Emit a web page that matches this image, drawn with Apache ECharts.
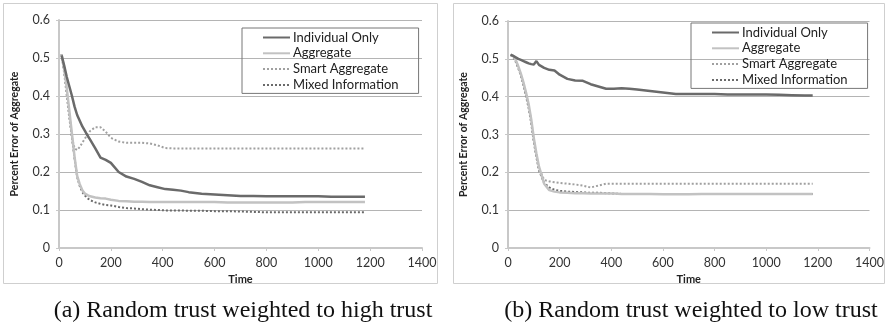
<!DOCTYPE html>
<html>
<head>
<meta charset="utf-8">
<script src="https://cdn.jsdelivr.net/npm/echarts@6/dist/echarts.min.js"></script>
<style>
  html, body { margin: 0; padding: 0; background: #fff; }
  #chart { width: 887px; height: 322px; }
</style>
</head>
<body>
<div id="chart"></div>
<script>
// time steps shared by every series
var time = [10, 20, 30, 40, 50, 60, 70, 80, 90, 100,
  110, 120, 140, 160, 180, 200, 230, 260, 290, 320,
  350, 380, 410, 440, 470, 500, 550, 600, 650, 700,
  750, 800, 850, 900, 950, 1000, 1050, 1100, 1150, 1180];

var seriesNames = ["Individual Only", "Aggregate", "Smart Aggregate", "Mixed Information"];

// (a) high trust
var individualA = [0.507, 0.48, 0.45, 0.425, 0.40, 0.372, 0.35, 0.335, 0.32, 0.308,
  0.296, 0.285, 0.262, 0.238, 0.232, 0.224, 0.200, 0.188, 0.182, 0.174,
  0.165, 0.160, 0.155, 0.153, 0.151, 0.147, 0.143, 0.141, 0.139, 0.137,
  0.137, 0.136, 0.136, 0.136, 0.136, 0.136, 0.135, 0.135, 0.135, 0.135];
var aggregateA = [0.51, 0.47, 0.42, 0.36, 0.30, 0.24, 0.19, 0.168, 0.152, 0.143,
  0.139, 0.136, 0.133, 0.131, 0.130, 0.127, 0.124, 0.123, 0.122, 0.122,
  0.121, 0.121, 0.121, 0.121, 0.121, 0.121, 0.121, 0.121, 0.120, 0.120,
  0.120, 0.120, 0.120, 0.120, 0.121, 0.121, 0.121, 0.121, 0.121, 0.121];
var smartA = [0.51, 0.46, 0.40, 0.34, 0.29, 0.262, 0.258, 0.266, 0.277, 0.288,
  0.298, 0.308, 0.318, 0.318, 0.306, 0.290, 0.280, 0.277, 0.277, 0.277,
  0.275, 0.270, 0.263, 0.262, 0.262, 0.262, 0.262, 0.262, 0.262, 0.262,
  0.262, 0.262, 0.262, 0.262, 0.262, 0.262, 0.262, 0.262, 0.262, 0.262];
var mixedA = [0.51, 0.465, 0.41, 0.35, 0.29, 0.235, 0.187, 0.163, 0.147, 0.138,
  0.131, 0.126, 0.120, 0.116, 0.113, 0.112, 0.108, 0.105, 0.104, 0.102,
  0.101, 0.100, 0.099, 0.099, 0.099, 0.098, 0.098, 0.097, 0.097, 0.096,
  0.095, 0.094, 0.094, 0.094, 0.094, 0.094, 0.094, 0.094, 0.094, 0.094];

// (b) low trust
var individualB = [0.511, 0.508, 0.504, 0.50, 0.497, 0.494, 0.491, 0.488, 0.486, 0.485,
  0.494, 0.484, 0.476, 0.471, 0.469, 0.458, 0.447, 0.443, 0.442, 0.433,
  0.427, 0.421, 0.421, 0.422, 0.421, 0.419, 0.415, 0.411, 0.407, 0.407,
  0.407, 0.407, 0.406, 0.406, 0.406, 0.406, 0.405, 0.404, 0.403, 0.403];
var aggregateB = [0.51, 0.508, 0.497, 0.48, 0.46, 0.437, 0.41, 0.38, 0.34, 0.29,
  0.25, 0.215, 0.17, 0.153, 0.149, 0.147, 0.146, 0.145, 0.145, 0.144,
  0.144, 0.144, 0.144, 0.143, 0.143, 0.143, 0.143, 0.142, 0.142, 0.142,
  0.143, 0.143, 0.143, 0.143, 0.143, 0.143, 0.143, 0.143, 0.143, 0.143];
var smartB = [0.51, 0.508, 0.495, 0.478, 0.457, 0.433, 0.405, 0.375, 0.335, 0.285,
  0.245, 0.21, 0.18, 0.176, 0.174, 0.172, 0.170, 0.168, 0.165, 0.160,
  0.165, 0.170, 0.170, 0.170, 0.170, 0.170, 0.170, 0.170, 0.170, 0.170,
  0.170, 0.170, 0.170, 0.170, 0.170, 0.170, 0.170, 0.170, 0.170, 0.170];
var mixedB = [0.51, 0.506, 0.492, 0.475, 0.455, 0.43, 0.40, 0.37, 0.33, 0.28,
  0.24, 0.205, 0.172, 0.16, 0.154, 0.151, 0.149, 0.148, 0.147, 0.146,
  0.146, 0.145, 0.144, 0.143, 0.143, 0.143, 0.143, 0.143, 0.143, 0.143,
  0.143, 0.143, 0.143, 0.143, 0.143, 0.143, 0.143, 0.143, 0.143, 0.143];

var captions = ["(a) Random trust weighted to high trust", "(b) Random trust weighted to low trust"];

var chart = echarts.init(document.getElementById("chart"));

var font = "Lato";
var styles = [
  { color: "#6a6a6a", width: 2.5, type: "solid" },
  { color: "#c2c2c2", width: 2.5, type: "solid" },
  { color: "#a0a0a0", width: 2, type: [2, 2] },
  { color: "#6a6a6a", width: 2, type: [2, 2] }
];

function pairs(vals) {
  return time.map(function (t, i) { return [t, vals[i]]; });
}

function makeSeries(idx, lists) {
  return lists.map(function (vals, k) {
    return {
      name: seriesNames[k],
      type: "line",
      xAxisIndex: idx,
      yAxisIndex: idx,
      symbol: "none",
      silent: true,
      z: 10 - k,
      lineStyle: styles[k],
      itemStyle: { color: styles[k].color },
      data: pairs(vals)
    };
  });
}

function xAxis(idx) {
  return {
    type: "value", gridIndex: idx, min: 0, max: 1400, interval: 200,
    name: "Time", nameLocation: "middle", nameGap: 23,
    nameTextStyle: { fontFamily: font, fontWeight: "bold", fontSize: 11, color: "#222" },
    axisLine: { lineStyle: { color: "#c8c8c8", width: 2 } },
    axisTick: { show: true, length: 3, lineStyle: { color: "#c8c8c8" } },
    axisLabel: { fontFamily: font, fontSize: 12.5, color: "#333", margin: 8,
      formatter: function (v) { return String(v); } },
    splitLine: { show: false }
  };
}

function yAxis(idx) {
  return {
    type: "value", gridIndex: idx, min: 0, max: 0.6, interval: 0.1,
    name: "Percent Error of Aggregate", nameLocation: "middle", nameGap: 39,
    nameTextStyle: { fontFamily: font, fontWeight: "bold", fontSize: 10.5, color: "#222" },
    axisLine: { show: true, lineStyle: { color: "#c8c8c8", width: 2 } },
    axisTick: { show: true, length: 3, lineStyle: { color: "#c8c8c8" } },
    axisLabel: { fontFamily: font, fontSize: 12.5, color: "#333", margin: 9 },
    splitLine: { lineStyle: { color: "#b4b4b4", width: 1 } }
  };
}

function legend(left, top) {
  return {
    left: left, top: top, orient: "vertical",
    data: seriesNames,
    itemWidth: 27, itemHeight: 12, itemGap: 2.8,
    padding: [3, 20, 2, 20],
    borderColor: "#777", borderWidth: 1,
    itemStyle: { opacity: 0 },   // hide the circle, keep the line sample
    textStyle: { fontFamily: font, fontSize: 13, lineHeight: 12, color: "#222", padding: [0, 0, 0, -2] },
    selectedMode: false
  };
}

var option = {
  animation: false,
  title: [
    { text: captions[0], left: 238, top: 294, textAlign: "center",
      textStyle: { fontFamily: "Liberation Serif", fontWeight: "normal", fontSize: 24, color: "#111" } },
    { text: captions[1], left: 686, top: 294, textAlign: "center",
      textStyle: { fontFamily: "Liberation Serif", fontWeight: "normal", fontSize: 24, color: "#111" } }
  ],
  graphic: [
    { type: "rect", shape: { x: 3.5, y: 3.5, width: 434, height: 280 },
      style: { fill: "none", stroke: "#cfcfcf", lineWidth: 1 }, silent: true },
    { type: "rect", shape: { x: 453.5, y: 3.5, width: 431, height: 280 },
      style: { fill: "none", stroke: "#cfcfcf", lineWidth: 1 }, silent: true }
  ],
  legend: [legend(242, 28), legend(691, 23)],
  grid: [
    { left: 59, top: 20, width: 363, height: 228 },
    { left: 508, top: 21, width: 362, height: 227 }
  ],
  xAxis: [xAxis(0), xAxis(1)],
  yAxis: [yAxis(0), yAxis(1)],
  series: makeSeries(0, [individualA, aggregateA, smartA, mixedA])
    .concat(makeSeries(1, [individualB, aggregateB, smartB, mixedB]))
};

chart.setOption(option);
</script>
</body>
</html>
